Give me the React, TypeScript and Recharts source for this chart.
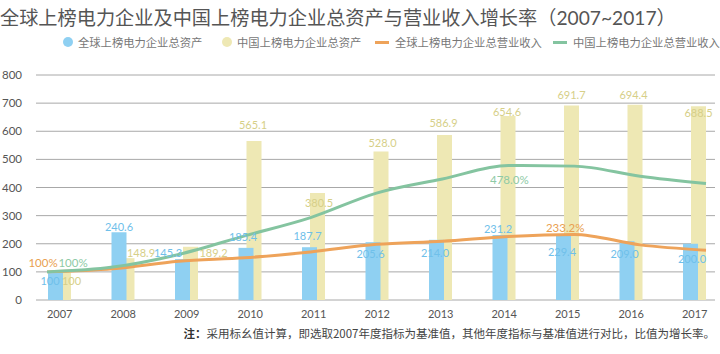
import React from 'react';
import { ComposedChart, Bar, Line, XAxis, YAxis, CartesianGrid, LabelList } from 'recharts';

const years = ['2007', '2008', '2009', '2010', '2011', '2012', '2013', '2014', '2015', '2016', '2017'];
const globalAssets = [100, 240.6, 145.3, 185.4, 187.7, 205.6, 214.0, 231.2, 229.4, 209.0, 200.0];
const chinaAssets = [100, 148.9, 189.2, 565.1, 380.5, 528.0, 586.9, 654.6, 691.7, 694.4, 688.5];
const globalRevenue = [100, 111, 138, 150, 171, 198, 209, 226, 233.2, 196, 177];
const chinaRevenue = [100, 117, 162, 228, 293, 380, 430, 478.0, 476, 440, 414];
const yTicks = [0, 100, 200, 300, 400, 500, 600, 700, 800];

const globalRevenueLabels: Record<number, string> = { 0: '100%', 8: '233.2%' };
const chinaRevenueLabels: Record<number, string> = { 0: '100%', 7: '478.0%' };

// label placement (styling only)
const blueDx = [-5.5, 0, -14.5, -3, -2, -2.5, -1.5, -2, -1.5, -2.5, 1.5];
const blueDy = [9, -6, -7, -11, -12, 11, 13, -6, 16.5, 12, 15];
const yellowDx = [8, 14, 23, -1, 1.5, 1.5, -1, -1, 0, -1.5, 0];
const yellowDy = [9, -6, 6, -17, 10, -9, -12, -4, -11, -10, 6];
const orangeLabelOffset: Record<number, [number, number]> = { 0: [-4, -9], 8: [-9, -7] };
const greenLabelOffset: Record<number, [number, number]> = { 0: [26, -9], 7: [1, 14] };

const BLUE = '#8fd0f2';
const YELLOW = '#eee8b4';
const ORANGE = '#eea35a';
const GREEN = '#84c4a0';

const data = years.map((year, i) => ({
  year,
  ga: globalAssets[i],
  ca: chinaAssets[i],
  gr: globalRevenue[i],
  cr: chinaRevenue[i],
}));

const fmt = (v: number, i: number) => (i === 0 ? String(v) : v.toFixed(1));

const makeBarLabel = (values: number[], dx: number[], dy: number[], color: string) => (props: any) => {
  const { x, y, width, index } = props;
  const cx = Number(x) + Number(width) / 2 + dx[index];
  const cy = Number(y) + dy[index];
  return (
    <text x={cx} y={cy} textAnchor="middle" dominantBaseline="central" fontSize={11} fill={color} fontFamily="Lato, sans-serif">
      {fmt(values[index], index)}
    </text>
  );
};

const makeLineLabel = (texts: Record<number, string>, offs: Record<number, [number, number]>, color: string) => (props: any) => {
  const { x, y, index } = props;
  const t = texts[index];
  if (!t) return null;
  const [dx, dy] = offs[index];
  return (
    <text x={Number(x) + dx} y={Number(y) + dy} textAnchor="middle" dominantBaseline="central" fontSize={11.5} fill={color} fontFamily="Lato, sans-serif">
      {t}
    </text>
  );
};

const legendItems = [
  { name: '全球上榜电力企业总资产', color: BLUE, kind: 'circle', x: 63 },
  { name: '中国上榜电力企业总资产', color: YELLOW, kind: 'circle', x: 222 },
  { name: '全球上榜电力企业总营业收入', color: ORANGE, kind: 'line', x: 375 },
  { name: '中国上榜电力企业总营业收入', color: GREEN, kind: 'line', x: 553 },
];

export default function App() {
  return (
    <div style={{ position: 'absolute', left: 0, top: 0, width: 720, height: 354, background: '#fff', overflow: 'hidden' }}>
      <div
        style={{
          position: 'absolute',
          left: 0,
          top: 6,
          lineHeight: '23px',
          fontSize: 19.2,
          color: '#555',
          whiteSpace: 'nowrap',
          fontFamily: "Lato, 'Noto Sans CJK SC', sans-serif",
        }}
      >
        全球上榜电力企业及中国上榜电力企业总资产与营业收入增长率（2007~2017）
      </div>
      {legendItems.map((it) => (
        <div
          key={it.name}
          style={{
            position: 'absolute',
            left: it.x,
            top: 35,
            height: 14,
            display: 'flex',
            alignItems: 'center',
            whiteSpace: 'nowrap',
            fontSize: 11.3,
            color: '#777',
            fontFamily: "'Noto Sans CJK SC', sans-serif",
          }}
        >
          {it.kind === 'circle' ? (
            <span style={{ display: 'inline-block', width: 10, height: 10, borderRadius: 5, background: it.color, marginRight: 5 }} />
          ) : (
            <span style={{ display: 'inline-block', width: 14, height: 3, background: it.color, marginRight: 6 }} />
          )}
          <span>{it.name}</span>
        </div>
      ))}
      <div
        style={{
          position: 'absolute',
          right: 5,
          top: 325,
          lineHeight: '16px',
          fontSize: 11.5,
          color: '#444',
          whiteSpace: 'nowrap',
          fontFamily: "'Noto Sans CJK SC', sans-serif",
        }}
      >
        <b style={{ color: '#333' }}>注：</b>采用标幺值计算，即选取2007年度指标为基准值，其他年度指标与基准值进行对比，比值为增长率。
      </div>
      <div style={{ position: 'absolute', left: 0, top: 0 }}>
        <ComposedChart width={720} height={354} data={data} margin={{ top: 75, right: 5, bottom: 34, left: 0 }} barGap={-23}>
          <CartesianGrid vertical={false} stroke="#a8a8a8" />
          <XAxis
            dataKey="year"
            padding={{ left: -8, right: -11.5 }}
            axisLine={false}
            tickLine={false}
            tickSize={0}
            tickMargin={10}
            height={20}
            interval={0}
            tick={{ fontSize: 11, fill: '#555', fontFamily: 'Lato, sans-serif' }}
          />
          <XAxis xAxisId="line" dataKey="year" scale="point" padding={{ left: 11, right: 9 }} hide />
          <YAxis
            domain={[0, 800]}
            ticks={yTicks}
            width={36}
            axisLine={false}
            tickLine={false}
            tickSize={0}
            tickMargin={14}
            interval={0}
            tick={{ fontSize: 11.5, fill: '#555', fontFamily: 'Lato, sans-serif' }}
          />
          <Bar dataKey="ca" barSize={15} fill={YELLOW} isAnimationActive={false}>
            <LabelList dataKey="ca" content={makeBarLabel(chinaAssets, yellowDx, yellowDy, '#d6cf88')} />
          </Bar>
          <Bar dataKey="ga" barSize={15} fill={BLUE} isAnimationActive={false}>
            <LabelList dataKey="ga" content={makeBarLabel(globalAssets, blueDx, blueDy, '#6fc0ea')} />
          </Bar>
          <Line xAxisId="line" type="monotone" dataKey="gr" stroke={ORANGE} strokeWidth={3} dot={false} isAnimationActive={false}>
            <LabelList dataKey="gr" content={makeLineLabel(globalRevenueLabels, orangeLabelOffset, '#e9a050')} />
          </Line>
          <Line xAxisId="line" type="monotone" dataKey="cr" stroke={GREEN} strokeWidth={3} dot={false} isAnimationActive={false}>
            <LabelList dataKey="cr" content={makeLineLabel(chinaRevenueLabels, greenLabelOffset, '#8ecaa6')} />
          </Line>
        </ComposedChart>
      </div>
    </div>
  );
}
